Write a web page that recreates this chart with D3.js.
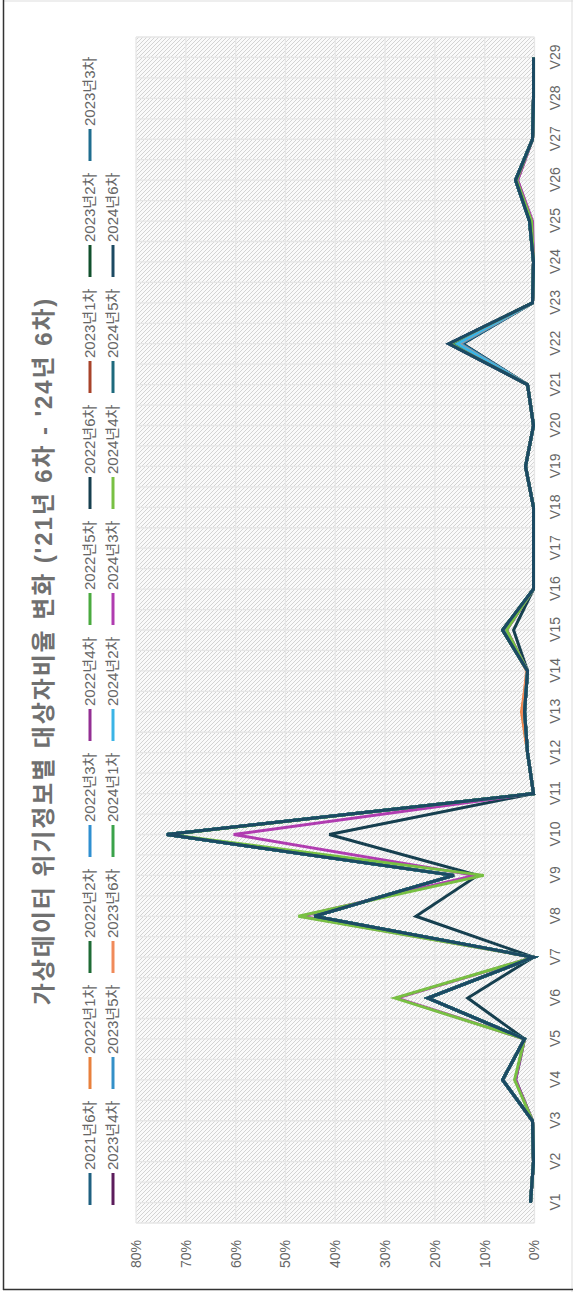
<!doctype html>
<html lang="ko">
<head>
<meta charset="utf-8" />
<title>가상데이터 위기정보별 대상자비율 변화</title>
<script src="https://d3js.org/d3.v7.min.js"></script>
<style>
    body { margin: 0; background: #fff; }
    text { font-family: "Liberation Sans", "Noto Sans CJK KR", sans-serif; }
</style>
</head>
<body>
<div id="chart"></div>
<script>
    // categories
    const categories = ["V1","V2","V3","V4","V5","V6","V7","V8","V9","V10","V11","V12","V13","V14","V15",
        "V16","V17","V18","V19","V20","V21","V22","V23","V24","V25","V26","V27","V28","V29"];
    const yTicks = [0, 0.1, 0.2, 0.3, 0.4, 0.5, 0.6, 0.7, 0.8];

    // series names and colours (legend order)
    const seriesNames = ["2021년6차","2022년1차","2022년2차","2022년3차","2022년4차","2022년5차","2022년6차",
        "2023년1차","2023년2차","2023년3차","2023년4차","2023년5차","2023년6차",
        "2024년1차","2024년2차","2024년3차","2024년4차","2024년5차","2024년6차"];
    const seriesColors = ["#1f6080","#e8803c","#1e6b35","#2f8fd0","#932e93","#4aaa3f","#163f4f",
        "#a8432a","#11502c","#1e6d8f","#5c1c5c","#3490c8","#f08a5a",
        "#3aa24a","#3bb4e6","#b03cb0","#78c043","#1e6a7d","#1c4a63"];

    // values in %, V1..V29
    const s2021_6 = [0.8,0.2,0.4,6.4,2.0,21.4,0.2,44.2,16.2,73.8,0.2,1.4,2.0,1.4,6.0,0.2,0.2,0.2,1.8,0.2,1.4,16.4,0.4,0.2,1.0,3.8,0.4,0.2,0.2];
    const s2022_1 = [0.8,0.2,0.4,6.4,2.0,21.4,0.2,44.2,16.2,73.8,0.2,1.4,2.6,1.4,5.8,0.2,0.2,0.2,1.8,0.2,1.4,15.0,0.4,0.2,1.0,3.8,0.4,0.2,0.2];
    const s2022_2 = [0.8,0.2,0.4,6.4,2.0,21.4,0.2,44.2,16.2,73.8,0.2,1.4,2.0,1.4,6.4,0.2,0.2,0.2,1.8,0.2,1.4,16.8,0.4,0.2,1.0,3.8,0.4,0.2,0.2];
    const s2022_3 = [0.8,0.2,0.4,6.4,2.0,21.4,0.2,44.2,16.2,73.8,0.2,1.4,2.0,1.4,6.2,0.2,0.2,0.2,1.8,0.2,1.4,14.6,0.4,0.2,1.0,3.8,0.4,0.2,0.2];
    const s2022_4 = [0.8,0.2,0.4,6.4,2.0,21.4,0.2,44.2,16.2,73.8,0.2,1.4,2.0,1.4,5.6,0.2,0.2,0.2,1.8,0.2,1.4,16.0,0.4,0.2,0.6,3.4,0.4,0.2,0.2];
    const s2022_5 = [0.8,0.2,0.4,6.4,2.0,21.4,0.2,44.2,16.2,73.8,0.2,1.4,2.0,1.4,6.4,0.2,0.2,0.2,1.8,0.2,1.4,16.6,0.4,0.2,1.0,3.8,0.4,0.2,0.2];
    const s2022_6 = [0.8,0.2,0.4,3.8,2.0,13.4,0.2,23.8,11.4,41.2,0.2,1.4,2.0,1.4,4.2,0.2,0.2,0.2,1.8,0.2,1.4,14.4,0.4,0.2,1.0,3.8,0.4,0.2,0.2];
    const s2023_1 = [0.8,0.2,0.4,6.4,2.0,21.4,0.2,44.2,16.2,73.8,0.2,1.4,2.0,1.4,6.0,0.2,0.2,0.2,1.8,0.2,1.4,15.8,0.4,0.2,1.0,3.8,0.4,0.2,0.2];
    const s2023_2 = [0.8,0.2,0.4,6.4,2.0,21.4,0.2,44.2,16.2,73.8,0.2,1.4,2.0,1.4,6.4,0.2,0.2,0.2,1.8,0.2,1.4,17.0,0.4,0.2,1.0,3.8,0.4,0.2,0.2];
    const s2023_3 = [0.8,0.2,0.4,6.4,2.0,21.4,0.2,44.2,16.2,73.8,0.2,1.4,2.0,1.4,6.2,0.2,0.2,0.2,1.8,0.2,1.4,16.0,0.4,0.2,1.0,3.8,0.4,0.2,0.2];
    const s2023_4 = [0.8,0.2,0.4,6.4,2.0,21.4,0.2,44.2,16.2,73.8,0.2,1.4,2.0,1.4,6.4,0.2,0.2,0.2,1.8,0.2,1.4,17.2,0.4,0.2,1.0,3.8,0.4,0.2,0.2];
    const s2023_5 = [0.8,0.2,0.4,6.4,2.0,21.4,0.2,44.2,16.2,73.8,0.2,1.4,2.0,1.4,5.8,0.2,0.2,0.2,1.8,0.2,1.4,14.8,0.4,0.2,1.0,3.8,0.4,0.2,0.2];
    const s2023_6 = [0.8,0.2,0.4,6.4,2.0,21.4,0.2,44.2,16.2,73.8,0.2,1.4,2.4,1.6,6.0,0.2,0.2,0.2,1.8,0.2,1.4,15.2,0.4,0.2,1.0,3.8,0.4,0.2,0.2];
    const s2024_1 = [0.8,0.2,0.4,6.4,2.0,21.4,0.2,44.2,16.2,73.8,0.2,1.4,2.0,1.4,6.4,0.2,0.2,0.2,1.8,0.2,1.4,16.6,0.4,0.2,1.0,3.8,0.4,0.2,0.2];
    const s2024_2 = [0.8,0.2,0.4,6.4,2.0,21.4,0.2,44.2,16.2,73.8,0.2,1.4,2.0,1.4,6.2,0.2,0.2,0.2,1.8,0.2,1.4,15.4,0.4,0.2,1.0,3.8,0.4,0.2,0.2];
    const s2024_3 = [0.8,0.2,0.4,3.8,2.0,27.6,0.2,46.8,12.0,60.4,0.2,1.4,2.0,1.4,5.6,0.2,0.2,0.2,1.8,0.2,1.4,17.0,0.4,0.2,0.4,3.4,0.4,0.2,0.2];
    const s2024_4 = [0.8,0.2,0.4,4.0,2.0,28.0,0.2,47.4,10.2,73.4,0.2,1.4,2.0,1.4,5.6,0.2,0.2,0.2,1.8,0.2,1.4,17.0,0.4,0.2,0.6,3.6,0.4,0.2,0.2];
    const s2024_5 = [0.8,0.2,0.4,6.4,2.0,21.4,0.2,44.2,16.2,73.8,0.2,1.4,2.0,1.4,6.4,0.2,0.2,0.2,1.8,0.2,1.4,17.2,0.4,0.2,1.0,3.8,0.4,0.2,0.2];
    const s2024_6 = [0.8,0.2,0.4,6.4,2.0,21.4,0.2,44.2,16.2,73.8,0.2,1.4,2.0,1.4,6.4,0.2,0.2,0.2,1.8,0.2,1.4,17.2,0.4,0.2,1.0,3.8,0.4,0.2,0.2];

    const seriesValues = [s2021_6, s2022_1, s2022_2, s2022_3, s2022_4, s2022_5, s2022_6,
        s2023_1, s2023_2, s2023_3, s2023_4, s2023_5, s2023_6,
        s2024_1, s2024_2, s2024_3, s2024_4, s2024_5, s2024_6];

    const PW = 573, PH = 1292;     // page size
    const plot = { left: 69, right: 1255, top: 136, bottom: 534.5 };

    const svg = d3.select("#chart").append("svg")
        .attr("width", PW).attr("height", PH);

    const defs = svg.append("defs");
    const pat = defs.append("pattern")
        .attr("id", "hatch")
        .attr("patternUnits", "userSpaceOnUse")
        .attr("width", 4).attr("height", 4);
    pat.append("rect").attr("width", 4).attr("height", 4).attr("fill", "#fafafa");
    pat.append("path")
        .attr("d", "M0,0 L4,4 M-1,3 L1,5 M3,-1 L5,1")
        .attr("stroke", "#cfcfcf").attr("stroke-width", 0.9);

    // frame
    svg.append("rect").attr("x", 0).attr("y", 0).attr("width", PW).attr("height", PH).attr("fill", "#fff");
    svg.append("line").attr("x1", 3).attr("x2", PW).attr("y1", 1).attr("y2", 1).attr("stroke", "#ddd");
    svg.append("line").attr("x1", PW - 1).attr("x2", PW - 1).attr("y1", 0).attr("y2", PH).attr("stroke", "#ddd");
    svg.append("line").attr("x1", 3.5).attr("x2", 3.5).attr("y1", 0).attr("y2", 1290).attr("stroke", "#333").attr("stroke-width", 1.5);
    svg.append("line").attr("x1", 3).attr("x2", PW).attr("y1", 1289.5).attr("y2", 1289.5).attr("stroke", "#333").attr("stroke-width", 1.5);

    // the chart is built landscape and turned a quarter left
    const g = svg.append("g").attr("transform", `translate(0,${PH}) rotate(-90)`);

    const x = d3.scalePoint().domain(categories).range([plot.left, plot.right]).padding(0.5);
    const y = d3.scaleLinear().domain([0, 0.8]).range([plot.bottom, plot.top]);

    // plot background
    g.append("rect")
        .attr("x", plot.left).attr("y", plot.top)
        .attr("width", plot.right - plot.left).attr("height", plot.bottom - plot.top)
        .attr("fill", "url(#hatch)");

    // grid: every half category
    const step = x.step();
    const vGrid = d3.range(0, categories.length * 2 + 1).map(k => plot.left + k * step / 2);
    g.append("g").selectAll("line").data(vGrid).join("line")
        .attr("x1", d => d).attr("x2", d => d)
        .attr("y1", plot.top).attr("y2", plot.bottom)
        .attr("stroke", "#e6e6e6").attr("stroke-width", 1.3);
    g.append("g").selectAll("line").data(yTicks).join("line")
        .attr("x1", plot.left).attr("x2", plot.right)
        .attr("y1", d => y(d)).attr("y2", d => y(d))
        .attr("stroke", "#e6e6e6").attr("stroke-width", 1.3);

    // axes
    const yAxis = g.append("g")
        .attr("transform", `translate(${plot.left - 17},0)`)
        .call(d3.axisLeft(y).tickValues(yTicks).tickFormat(d3.format(".0%")).tickSize(0).tickPadding(0));
    yAxis.select(".domain").remove();
    yAxis.selectAll("text").attr("fill", "#666").attr("font-size", 14)
        .attr("font-family", "'Liberation Sans', 'Noto Sans CJK KR', sans-serif");

    const xAxis = g.append("g")
        .attr("transform", `translate(0,${plot.bottom})`)
        .call(d3.axisBottom(x).tickSize(0).tickPadding(16));
    xAxis.select(".domain").remove();
    xAxis.selectAll("text").attr("fill", "#666").attr("font-size", 14)
        .attr("font-family", "'Liberation Sans', 'Noto Sans CJK KR', sans-serif");

    // lines
    const line = d3.line()
        .x((d, i) => x(categories[i]))
        .y(d => y(d / 100));
    g.append("g").selectAll("path").data(seriesValues).join("path")
        .attr("d", d => line(d))
        .attr("fill", "none")
        .attr("stroke", (d, i) => seriesColors[i])
        .attr("stroke-width", 3)
        .attr("stroke-linejoin", "miter")
        .attr("stroke-miterlimit", 4);

    // title
    g.append("text")
        .attr("x", 641).attr("y", 52)
        .attr("text-anchor", "middle")
        .attr("font-size", 24).attr("font-weight", "bold")
        .attr("letter-spacing", 1.9)
        .attr("fill", "#707070")
        .text("가상데이터 위기정보별 대상자비율 변화 ('21년 6차 - '24년 6차)");

    // legend: 10 items in first row, 9 in second
    const legend = g.append("g");
    const items = legend.selectAll("g").data(seriesNames).join("g")
        .attr("transform", (d, i) => {
            const row = i < 10 ? 0 : 1;
            const col = i < 10 ? i : i - 10;
            return `translate(${87 + col * 116},${row === 0 ? 90 : 113})`;
        });
    items.append("line")
        .attr("x1", 0).attr("x2", 32)
        .attr("stroke", (d, i) => seriesColors[i]).attr("stroke-width", 3);
    items.append("text")
        .attr("x", 35).attr("dy", "0.35em")
        .attr("font-size", 15).attr("fill", "#666")
        .text(d => d);
</script>
</body>
</html>
